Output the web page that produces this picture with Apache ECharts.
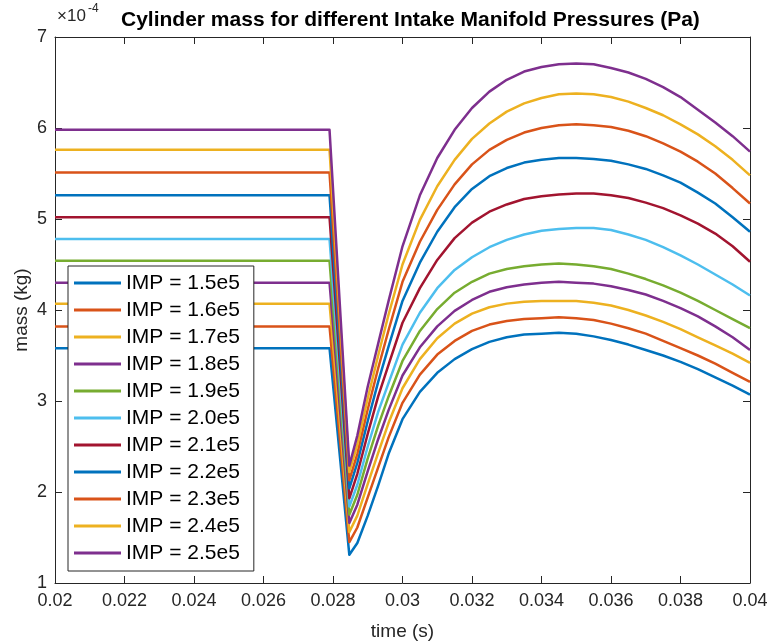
<!DOCTYPE html>
<html>
<head>
<meta charset="utf-8">
<script src="https://cdn.jsdelivr.net/npm/echarts@6/dist/echarts.min.js"></script>
<style>
html,body{margin:0;padding:0;background:#fff}
#chart{width:771px;height:642px}
</style>
</head>
<body>
<div id="chart"></div>
<script>
// time samples (s), shared by all curves
var times = [0.0200, 0.0279, 0.02847, 0.0287, 0.0290, 0.0293, 0.0296,
             0.0300, 0.0305, 0.0310, 0.0315, 0.0320, 0.0325, 0.0330, 0.0335, 0.0340, 0.0345,
             0.0350, 0.0355, 0.0360, 0.0365, 0.0370, 0.0375, 0.0380, 0.0385, 0.0390, 0.0395, 0.0400];

// cylinder mass, in units of 1e-4 kg
var imp15 = [3.58, 3.58, 1.31, 1.44, 1.74, 2.07, 2.42, 2.80, 3.10, 3.31, 3.46, 3.57, 3.65, 3.70, 3.73, 3.74, 3.75,
             3.74, 3.71, 3.67, 3.62, 3.56, 3.50, 3.43, 3.35, 3.26, 3.17, 3.07];
var imp16 = [3.82, 3.82, 1.45, 1.61, 1.94, 2.27, 2.60, 2.98, 3.29, 3.51, 3.66, 3.77, 3.84, 3.88, 3.90, 3.91, 3.92,
             3.91, 3.89, 3.85, 3.80, 3.74, 3.66, 3.58, 3.50, 3.41, 3.31, 3.21];
var imp17 = [4.07, 4.07, 1.56, 1.74, 2.09, 2.43, 2.76, 3.14, 3.46, 3.69, 3.85, 3.96, 4.03, 4.07, 4.09, 4.10, 4.10,
             4.10, 4.08, 4.05, 4.00, 3.94, 3.87, 3.79, 3.70, 3.61, 3.52, 3.42];
var imp18 = [4.30, 4.30, 1.66, 1.86, 2.23, 2.58, 2.90, 3.28, 3.59, 3.82, 3.99, 4.11, 4.20, 4.25, 4.28, 4.30, 4.31,
             4.30, 4.29, 4.26, 4.22, 4.17, 4.10, 4.02, 3.93, 3.82, 3.70, 3.56];
var imp19 = [4.54, 4.54, 1.75, 1.97, 2.37, 2.73, 3.05, 3.44, 3.77, 4.01, 4.19, 4.31, 4.40, 4.45, 4.48, 4.50, 4.51,
             4.50, 4.48, 4.45, 4.40, 4.34, 4.27, 4.19, 4.10, 4.00, 3.90, 3.80];
var imp20 = [4.78, 4.78, 1.84, 2.08, 2.50, 2.88, 3.20, 3.62, 3.97, 4.24, 4.44, 4.58, 4.69, 4.77, 4.83, 4.87, 4.89,
             4.90, 4.90, 4.88, 4.83, 4.77, 4.69, 4.60, 4.50, 4.39, 4.28, 4.16];
var imp21 = [5.02, 5.02, 1.93, 2.20, 2.64, 3.05, 3.40, 3.86, 4.24, 4.55, 4.79, 4.96, 5.08, 5.16, 5.22, 5.25, 5.27,
             5.28, 5.28, 5.26, 5.23, 5.18, 5.12, 5.04, 4.95, 4.84, 4.70, 4.53];
var imp22 = [5.26, 5.26, 2.04, 2.32, 2.78, 3.21, 3.60, 4.10, 4.52, 4.86, 5.13, 5.33, 5.47, 5.56, 5.62, 5.65, 5.67,
             5.67, 5.66, 5.64, 5.60, 5.55, 5.48, 5.40, 5.29, 5.17, 5.02, 4.86];
var imp23 = [5.51, 5.51, 2.13, 2.42, 2.91, 3.36, 3.78, 4.31, 4.75, 5.10, 5.38, 5.60, 5.76, 5.87, 5.95, 6.00, 6.03,
             6.04, 6.03, 6.01, 5.97, 5.91, 5.83, 5.74, 5.63, 5.50, 5.34, 5.17];
var imp24 = [5.76, 5.76, 2.22, 2.52, 3.03, 3.50, 3.95, 4.50, 4.99, 5.36, 5.65, 5.88, 6.05, 6.18, 6.27, 6.33, 6.37,
             6.38, 6.37, 6.34, 6.29, 6.22, 6.14, 6.04, 5.93, 5.80, 5.65, 5.48];
var imp25 = [5.98, 5.98, 2.29, 2.62, 3.16, 3.63, 4.10, 4.70, 5.26, 5.67, 5.98, 6.22, 6.40, 6.53, 6.62, 6.67, 6.70,
             6.71, 6.70, 6.66, 6.61, 6.54, 6.45, 6.34, 6.20, 6.06, 5.91, 5.74];

var curves = [imp15, imp16, imp17, imp18, imp19, imp20, imp21, imp22, imp23, imp24, imp25];
var names = ['IMP = 1.5e5', 'IMP = 1.6e5', 'IMP = 1.7e5', 'IMP = 1.8e5', 'IMP = 1.9e5', 'IMP = 2.0e5',
             'IMP = 2.1e5', 'IMP = 2.2e5', 'IMP = 2.3e5', 'IMP = 2.4e5', 'IMP = 2.5e5'];
// matlab default line colours, cycling
var colors = ['#0072BD', '#D95319', '#EDB120', '#7E2F8E', '#77AC30', '#4DBEEE', '#A2142F',
              '#0072BD', '#D95319', '#EDB120', '#7E2F8E'];

var xTickLabels = ['0.02', '0.022', '0.024', '0.026', '0.028', '0.03', '0.032', '0.034', '0.036', '0.038', '0.04'];
var yTickLabels = ['1', '2', '3', '4', '5', '6', '7'];

var font = '"Liberation Sans", Arial, Helvetica, sans-serif';
var ink = '#262626';

var chart = echarts.init(document.getElementById('chart'));

var series = curves.map(function (vals, k) {
  return {
    type: 'line',
    name: names[k],
    data: times.map(function (t, i) { return [t, vals[i]]; }),
    symbol: 'none',
    color: colors[k],
    lineStyle: { width: 2.5, color: colors[k], join: 'round' },
    animation: false
  };
});

function boxAxis(pos, showLabel) {
  return {
    type: 'value',
    position: pos,
    axisLine: { show: true, onZero: false, lineStyle: { color: ink, width: 1 } },
    axisTick: { show: true, inside: true, length: 7, lineStyle: { color: ink, width: 1 } },
    splitLine: { show: false },
    axisLabel: { show: showLabel, fontSize: 18, color: ink, fontFamily: font }
  };
}

var xBottom = boxAxis('bottom', true);
xBottom.min = 0.02; xBottom.max = 0.04; xBottom.interval = 0.002;
xBottom.axisLabel.margin = 9;
xBottom.axisLabel.formatter = function (v) { return xTickLabels[Math.round((v - 0.02) / 0.002)]; };
xBottom.name = 'time (s)';
xBottom.nameLocation = 'middle';
xBottom.nameGap = 39;
xBottom.nameTextStyle = { fontSize: 19, color: ink, fontFamily: font };

var xTop = boxAxis('top', false);
xTop.min = 0.02; xTop.max = 0.04; xTop.interval = 0.002;

var yLeft = boxAxis('left', true);
yLeft.min = 1; yLeft.max = 7; yLeft.interval = 1;
yLeft.axisLabel.margin = 8;
yLeft.axisLabel.formatter = function (v) { return yTickLabels[Math.round(v - 1)]; };
yLeft.name = 'mass (kg)';
yLeft.nameLocation = 'middle';
yLeft.nameGap = 24;
yLeft.nameMoveOverlap = false;
yLeft.nameTextStyle = { fontSize: 19, color: ink, fontFamily: font };

var yRight = boxAxis('right', false);
yRight.min = 1; yRight.max = 7; yRight.interval = 1;

var option = {
  animation: false,
  textStyle: { fontFamily: font },
  title: {
    text: 'Cylinder mass for different Intake Manifold Pressures (Pa)',
    left: 116, top: 5,
    textStyle: { fontSize: 21, fontWeight: 'bold', color: '#000', fontFamily: font }
  },
  graphic: [
    { type: 'text', left: 57, top: 8, style: { text: '\u00d710', fontSize: 17, fill: ink, fontFamily: font } },
    { type: 'text', left: 88, top: 3, style: { text: '-4', fontSize: 12, fill: ink, fontFamily: font } }
  ],
  grid: { left: 55, top: 37, right: 21, bottom: 59, containLabel: false, outerBoundsMode: 'none' },
  legend: {
    orient: 'vertical',
    left: 68, top: 266,
    data: names,
    icon: 'rect',
    itemWidth: 47, itemHeight: 3, itemGap: 5,
    padding: [6, 14, 7, 6],
    backgroundColor: '#fff',
    borderColor: ink, borderWidth: 1, borderRadius: 0,
    selectedMode: false,
    textStyle: { fontSize: 21, color: '#000', lineHeight: 22, fontFamily: font }
  },
  xAxis: [xBottom, xTop],
  yAxis: [yLeft, yRight],
  series: series
};

chart.setOption(option);
</script>
</body>
</html>
